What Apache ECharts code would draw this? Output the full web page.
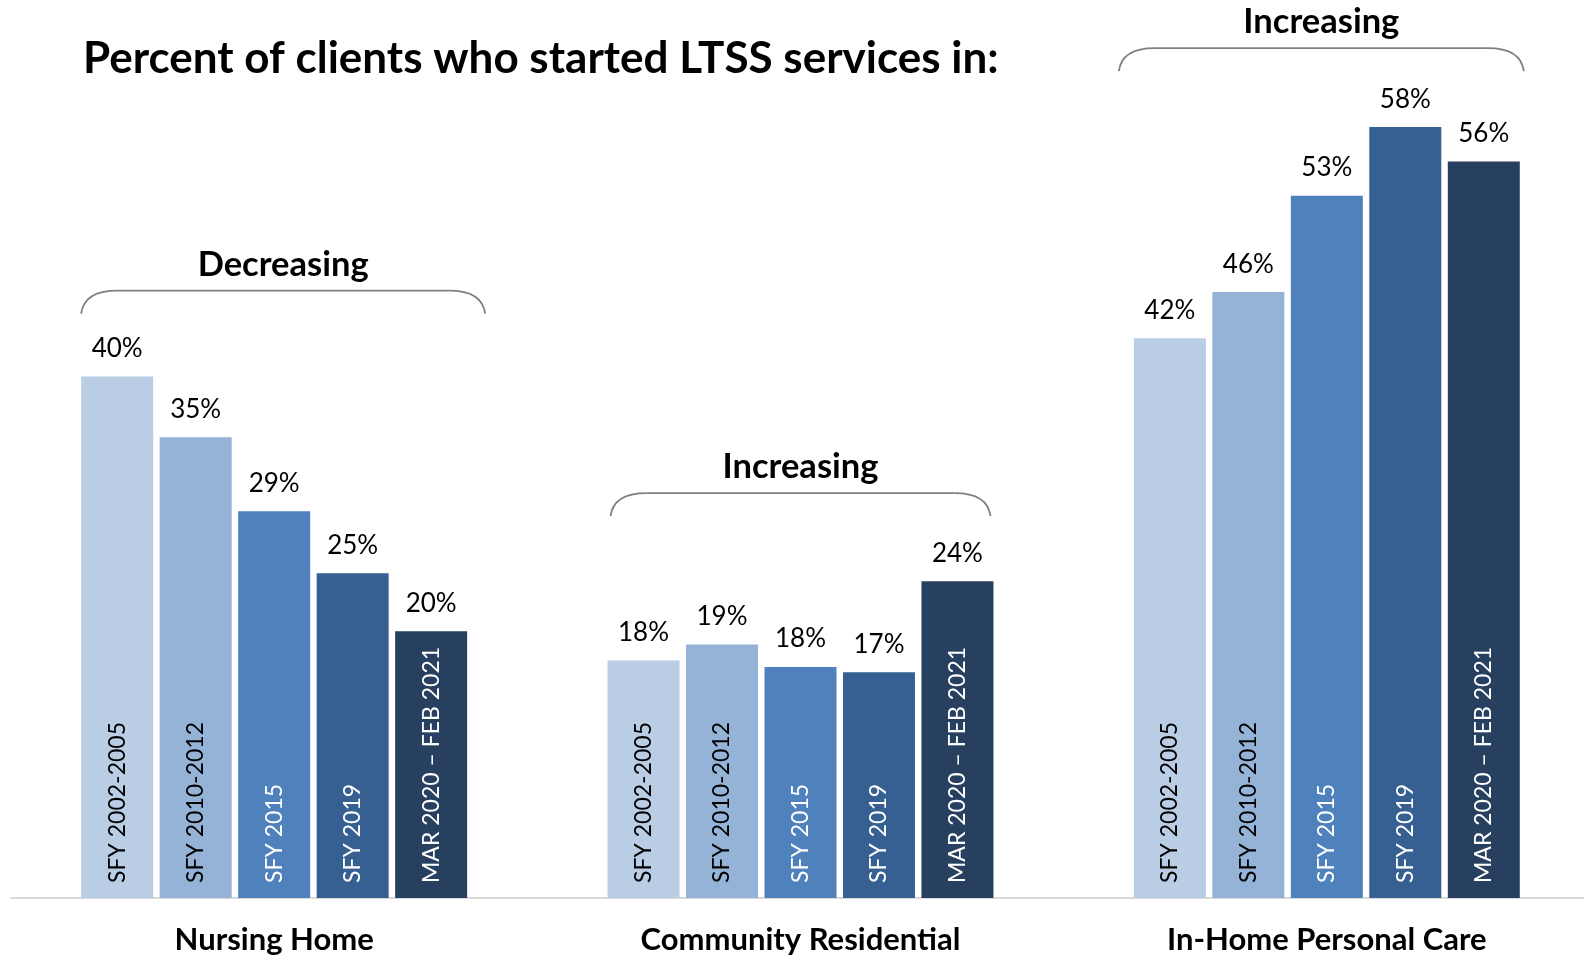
<!DOCTYPE html>
<html>
<head>
<meta charset="utf-8">
<script src="https://cdn.jsdelivr.net/npm/echarts@6/dist/echarts.min.js"></script>
<style>
html,body{margin:0;padding:0;background:#fff;overflow:hidden;}
#chart{width:1600px;height:959px;}
</style>
</head>
<body>
<div id="chart"></div>
<script>
// ---- data ----
const categories = ['Nursing Home', 'Community Residential', 'In-Home Personal Care'];
const periods = ['SFY 2002-2005', 'SFY 2010-2012', 'SFY 2015', 'SFY 2019', 'MAR 2020 \u2013 FEB 2021'];
const sfy2002_2005 = [39.5, 18.0, 42.4];
const sfy2010_2012 = [34.9, 19.2, 45.9];
const sfy2015      = [29.3, 17.5, 53.2];
const sfy2019      = [24.6, 17.1, 58.4];
const mar2020_feb2021 = [20.2, 24.0, 55.8];
const trendLabels = ['Decreasing', 'Increasing', 'Increasing'];
const titleText = 'Percent of clients who started LTSS services in:';

// ---- styling ----
const seriesValues = [sfy2002_2005, sfy2010_2012, sfy2015, sfy2019, mar2020_feb2021];
const colors = ['#B9CDE5', '#95B3D7', '#4F81BD', '#376092', '#27405F'];
const insideTextColors = ['#000', '#000', '#fff', '#fff', '#fff'];
const FONT = 'Lato, "Noto Sans", sans-serif';
// bracket layout per group: [left offset, right offset, gap above tallest bar]
const bracketLayout = [[-193, 211, 86], [-190, 190, 88], [-208, 197, 79]];

const series = [];
seriesValues.forEach((vals, i) => {
  series.push({
    name: periods[i],
    type: 'bar',
    stack: 's' + i,
    barWidth: 72,
    barGap: '9%',
    data: vals,
    itemStyle: { color: colors[i] },
    label: {
      show: true,
      position: 'insideBottom',
      rotate: 90,
      align: 'left',
      verticalAlign: 'middle',
      distance: 15,
      formatter: periods[i],
      color: insideTextColors[i],
      fontFamily: FONT,
      fontSize: 23
    },
    silent: true
  });
  series.push({
    name: periods[i] + ' value',
    type: 'bar',
    stack: 's' + i,
    barWidth: 72,
    barGap: '9%',
    data: vals.map(() => 0),
    itemStyle: { color: colors[i] },
    label: {
      show: true,
      position: 'top',
      distance: 15,
      formatter: (p) => Math.round(vals[p.dataIndex]) + '%',
      color: '#000',
      fontFamily: FONT,
      fontSize: 26
    },
    silent: true
  });
});

const chart = echarts.init(document.getElementById('chart'), null, { renderer: 'canvas' });
chart.setOption({
  animation: false,
  backgroundColor: '#fff',
  title: {
    text: titleText,
    left: 78,
    top: 32,
    textStyle: { fontFamily: FONT, fontWeight: 'bold', fontSize: 44, color: '#000' }
  },
  grid: { left: 11, width: 1579, top: 106, bottom: 61 },
  xAxis: {
    type: 'category',
    data: categories,
    axisLine: { lineStyle: { color: '#D9D9D9', width: 2 } },
    axisTick: { show: false },
    axisLabel: {
      margin: 26,
      color: '#000',
      fontFamily: FONT,
      fontWeight: 'bold',
      fontSize: 31
    }
  },
  yAxis: { type: 'value', min: 0, max: 60, show: false },
  series: series
});

// annotations: brackets + trend labels, positioned from the chart scales
const graphics = [];
const stroke = { stroke: '#808080', lineWidth: 1.8, fill: null };
categories.forEach((c, ci) => {
  const maxVal = Math.max(...seriesValues.map(v => v[ci]));
  const center = chart.convertToPixel({ gridIndex: 0 }, [ci, maxVal]);
  const [lo, ro, gap] = bracketLayout[ci];
  const x0 = center[0] + lo, x1 = center[0] + ro;
  const yTop = center[1] - gap;
  const drop = 23, rx = 36;
  graphics.push({
    type: 'bezierCurve',
    shape: { x1: x0, y1: yTop + drop, cpx1: x0 + 2, cpy1: yTop + 8, cpx2: x0 + rx * 0.4, cpy2: yTop, x2: x0 + rx, y2: yTop },
    style: stroke, silent: true
  });
  graphics.push({
    type: 'line',
    shape: { x1: x0 + rx, y1: yTop, x2: x1 - rx, y2: yTop },
    style: stroke, silent: true
  });
  graphics.push({
    type: 'bezierCurve',
    shape: { x1: x1 - rx, y1: yTop, cpx1: x1 - rx * 0.4, cpy1: yTop, cpx2: x1 - 2, cpy2: yTop + 8, x2: x1, y2: yTop + drop },
    style: stroke, silent: true
  });
  graphics.push({
    type: 'text',
    x: (x0 + x1) / 2,
    y: yTop - 26,
    style: {
      text: trendLabels[ci],
      fontFamily: FONT,
      fontWeight: 'bold',
      fontSize: 34.5,
      fill: '#000',
      align: 'center',
      verticalAlign: 'middle'
    },
    silent: true
  });
});
chart.setOption({ graphic: graphics });
</script>
</body>
</html>
